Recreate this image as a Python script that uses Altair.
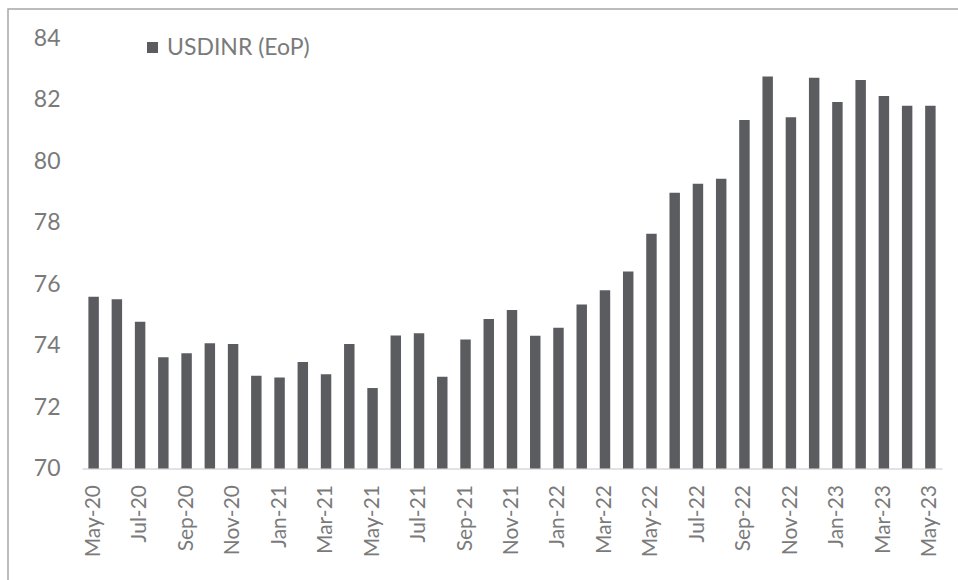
import altair as alt
import pandas as pd

# Month-end USD/INR rate, May 2020 to May 2023
months = [
    "May-20", "Jun-20", "Jul-20", "Aug-20", "Sep-20", "Oct-20", "Nov-20", "Dec-20",
    "Jan-21", "Feb-21", "Mar-21", "Apr-21", "May-21", "Jun-21", "Jul-21", "Aug-21",
    "Sep-21", "Oct-21", "Nov-21", "Dec-21", "Jan-22", "Feb-22", "Mar-22", "Apr-22",
    "May-22", "Jun-22", "Jul-22", "Aug-22", "Sep-22", "Oct-22", "Nov-22", "Dec-22",
    "Jan-23", "Feb-23", "Mar-23", "Apr-23", "May-23",
]
usdinr = [
    75.59, 75.51, 74.78, 73.62, 73.75, 74.08, 74.05, 73.02,
    72.96, 73.47, 73.07, 74.05, 72.62, 74.33, 74.40, 72.99,
    74.20, 74.87, 75.16, 74.32, 74.58, 75.34, 75.80, 76.41,
    77.64, 78.98, 79.27, 79.43, 81.35, 82.76, 81.44, 82.72,
    81.93, 82.65, 82.13, 81.81, 81.81,
]
series_name = "USDINR (EoP)"
tick_months = months[::2]
y_ticks = [70, 72, 74, 76, 78, 80, 82, 84]

df = pd.DataFrame({"month": months, "rate": usdinr, "series": series_name})

W, H = 860, 430
FONT = "Lato"
TXT = "#7a7a7a"
BAR = "#5b5c60"

bars = alt.Chart(df).mark_bar(color=BAR).encode(
    x=alt.X(
        "month:N",
        sort=months,
        title=None,
        scale=alt.Scale(paddingInner=0.55, paddingOuter=0.275),
        axis=alt.Axis(
            values=tick_months,
            labelAngle=-90,
            labelFontSize=21,
            labelColor=TXT,
            labelFont=FONT,
            labelPadding=16,
            ticks=False,
            domainColor="#d9d9d9",
            domainWidth=1.5,
            grid=False,
        ),
    ),
    y=alt.Y(
        "rate:Q",
        title=None,
        scale=alt.Scale(domain=[70, 84], nice=False, zero=False),
        axis=alt.Axis(
            values=y_ticks,
            labelFontSize=23,
            labelColor=TXT,
            labelFont=FONT,
            labelPadding=22,
            ticks=False,
            domain=False,
            grid=False,
        ),
    ),
    y2=alt.datum(y_ticks[0]),
    color=alt.Color(
        "series:N",
        scale=alt.Scale(range=[BAR]),
        legend=alt.Legend(
            title=None,
            orient="none",
            legendX=59,
            legendY=-2.5,
            symbolType="square",
            symbolSize=121,
            symbolStrokeWidth=0,
            labelFontSize=23,
            labelColor=TXT,
            labelFont=FONT,
            labelOffset=3,
            padding=0,
        ),
    ),
)

# thin grey frame around the whole chart
frame = alt.Chart(pd.DataFrame({"f": [0]})).mark_rect(
    fill=None, stroke="#a6a6a6", strokeWidth=1.5
).encode(
    x=alt.value(-74),
    x2=alt.value(W + 60),
    y=alt.value(-29.5),
    y2=alt.value(H + 200),
)

chart = (
    alt.layer(frame, bars)
    .properties(
        width=W,
        height=H,
        autosize=alt.AutoSizeParams(type="none"),
        padding={"left": 82, "top": 38.5, "right": 16, "bottom": 111.5},
        background="white",
    )
    .configure_view(stroke=None)
)

chart.save("out.html", embed_options={"renderer": "svg", "actions": False})
